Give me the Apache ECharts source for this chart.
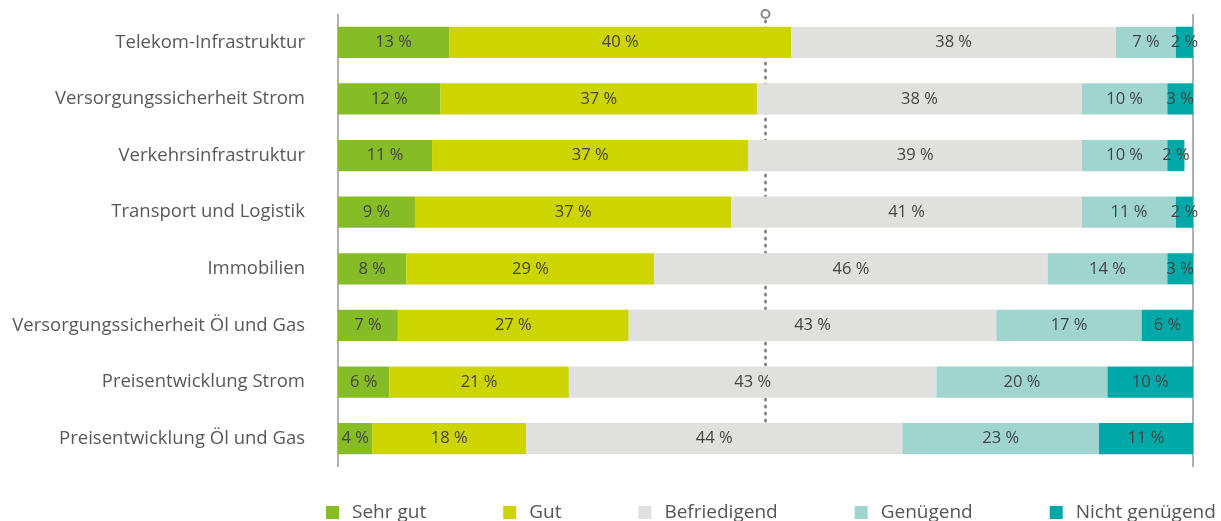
<!DOCTYPE html>
<html>
<head>
<meta charset="utf-8">
<script src="https://cdn.jsdelivr.net/npm/echarts@6/dist/echarts.min.js"></script>
<style>
  html, body { margin: 0; padding: 0; background: #fff; }
  #chart { width: 1221px; height: 521px; }
</style>
</head>
<body>
<div id="chart"></div>
<script>
var kategorien = [
    'Telekom-Infrastruktur',
    'Versorgungssicherheit Strom',
    'Verkehrsinfrastruktur',
    'Transport und Logistik',
    'Immobilien',
    'Versorgungssicherheit Öl und Gas',
    'Preisentwicklung Strom',
    'Preisentwicklung Öl und Gas'
];

var sehrGut = [13, 12, 11, 9, 8, 7, 6, 4];
var gut = [40, 37, 37, 37, 29, 27, 21, 18];
var befriedigend = [38, 38, 39, 41, 46, 43, 43, 44];
var genuegend = [7, 10, 10, 11, 14, 17, 20, 23];
var nichtGenuegend = [2, 3, 2, 2, 3, 6, 10, 11];

var serienNamen = ['Sehr gut', 'Gut', 'Befriedigend', 'Genügend', 'Nicht genügend'];
var farben = ['#86bc25', '#cdd400', '#e0e0df', '#9fd4cf', '#00a9a7'];

var gridTop = 14;

const makeSerie = (name, werte, farbe) => {
    return {
        name: name,
        type: 'bar',
        stack: 'gesamt',
        data: werte,
        barCategoryGap: '45%',
        itemStyle: { color: farbe },
        label: {
            show: true,
            position: 'inside',
            color: '#444',
            fontSize: 16.5,
            fontFamily: 'Open Sans',
            formatter: (p) => p.value + ' %'
        }
    };
};

const getOption = () => {
    const alleWerte = [sehrGut, gut, befriedigend, genuegend, nichtGenuegend];
    const serien = alleWerte.map((w, i) => makeSerie(serienNamen[i], w, farben[i]));
    // gepunktete 50%-Linie hinter den Balken, oben mit Kreis
    serien[0].markLine = {
        silent: true,
        z: 0,
        symbol: ['emptyCircle', 'none'],
        symbolSize: 8,
        label: { show: false },
        lineStyle: { color: '#8a8a8a', type: [1, 6], width: 3, cap: 'round' },
        data: [[{ coord: [50, 0], y: gridTop }, { coord: [50, kategorien.length - 1] }]]
    };
    return {
        animation: false,
        textStyle: { fontFamily: 'Open Sans' },
        color: farben,
        legend: {
            data: serienNamen,
            left: 326,
            top: 503,
            width: 895,
            padding: 0,
            itemWidth: 13,
            itemHeight: 13,
            itemGap: 77,
            icon: 'rect',
            textStyle: { fontSize: 19, color: '#555', fontFamily: 'Open Sans', padding: [0, 0, 0, 8] }
        },
        grid: { left: 338, right: 28, top: gridTop, bottom: 54 },
        xAxis: {
            type: 'value',
            min: 0,
            max: 100,
            interval: 100,
            axisLabel: { show: false },
            axisLine: { show: false },
            axisTick: { show: false },
            splitLine: { show: true, lineStyle: { color: '#b0b0b0', width: 2 } }
        },
        yAxis: {
            type: 'category',
            data: kategorien,
            inverse: true,
            axisLine: { show: false },
            axisTick: { show: false },
            axisLabel: { color: '#58585a', fontSize: 18.5, margin: 33, fontFamily: 'Open Sans' }
        },
        series: serien
    };
};

const initChart = () => {
    const chart = echarts.init(document.getElementById('chart'));
    chart.setOption(getOption());
};

initChart();
</script>
</body>
</html>
